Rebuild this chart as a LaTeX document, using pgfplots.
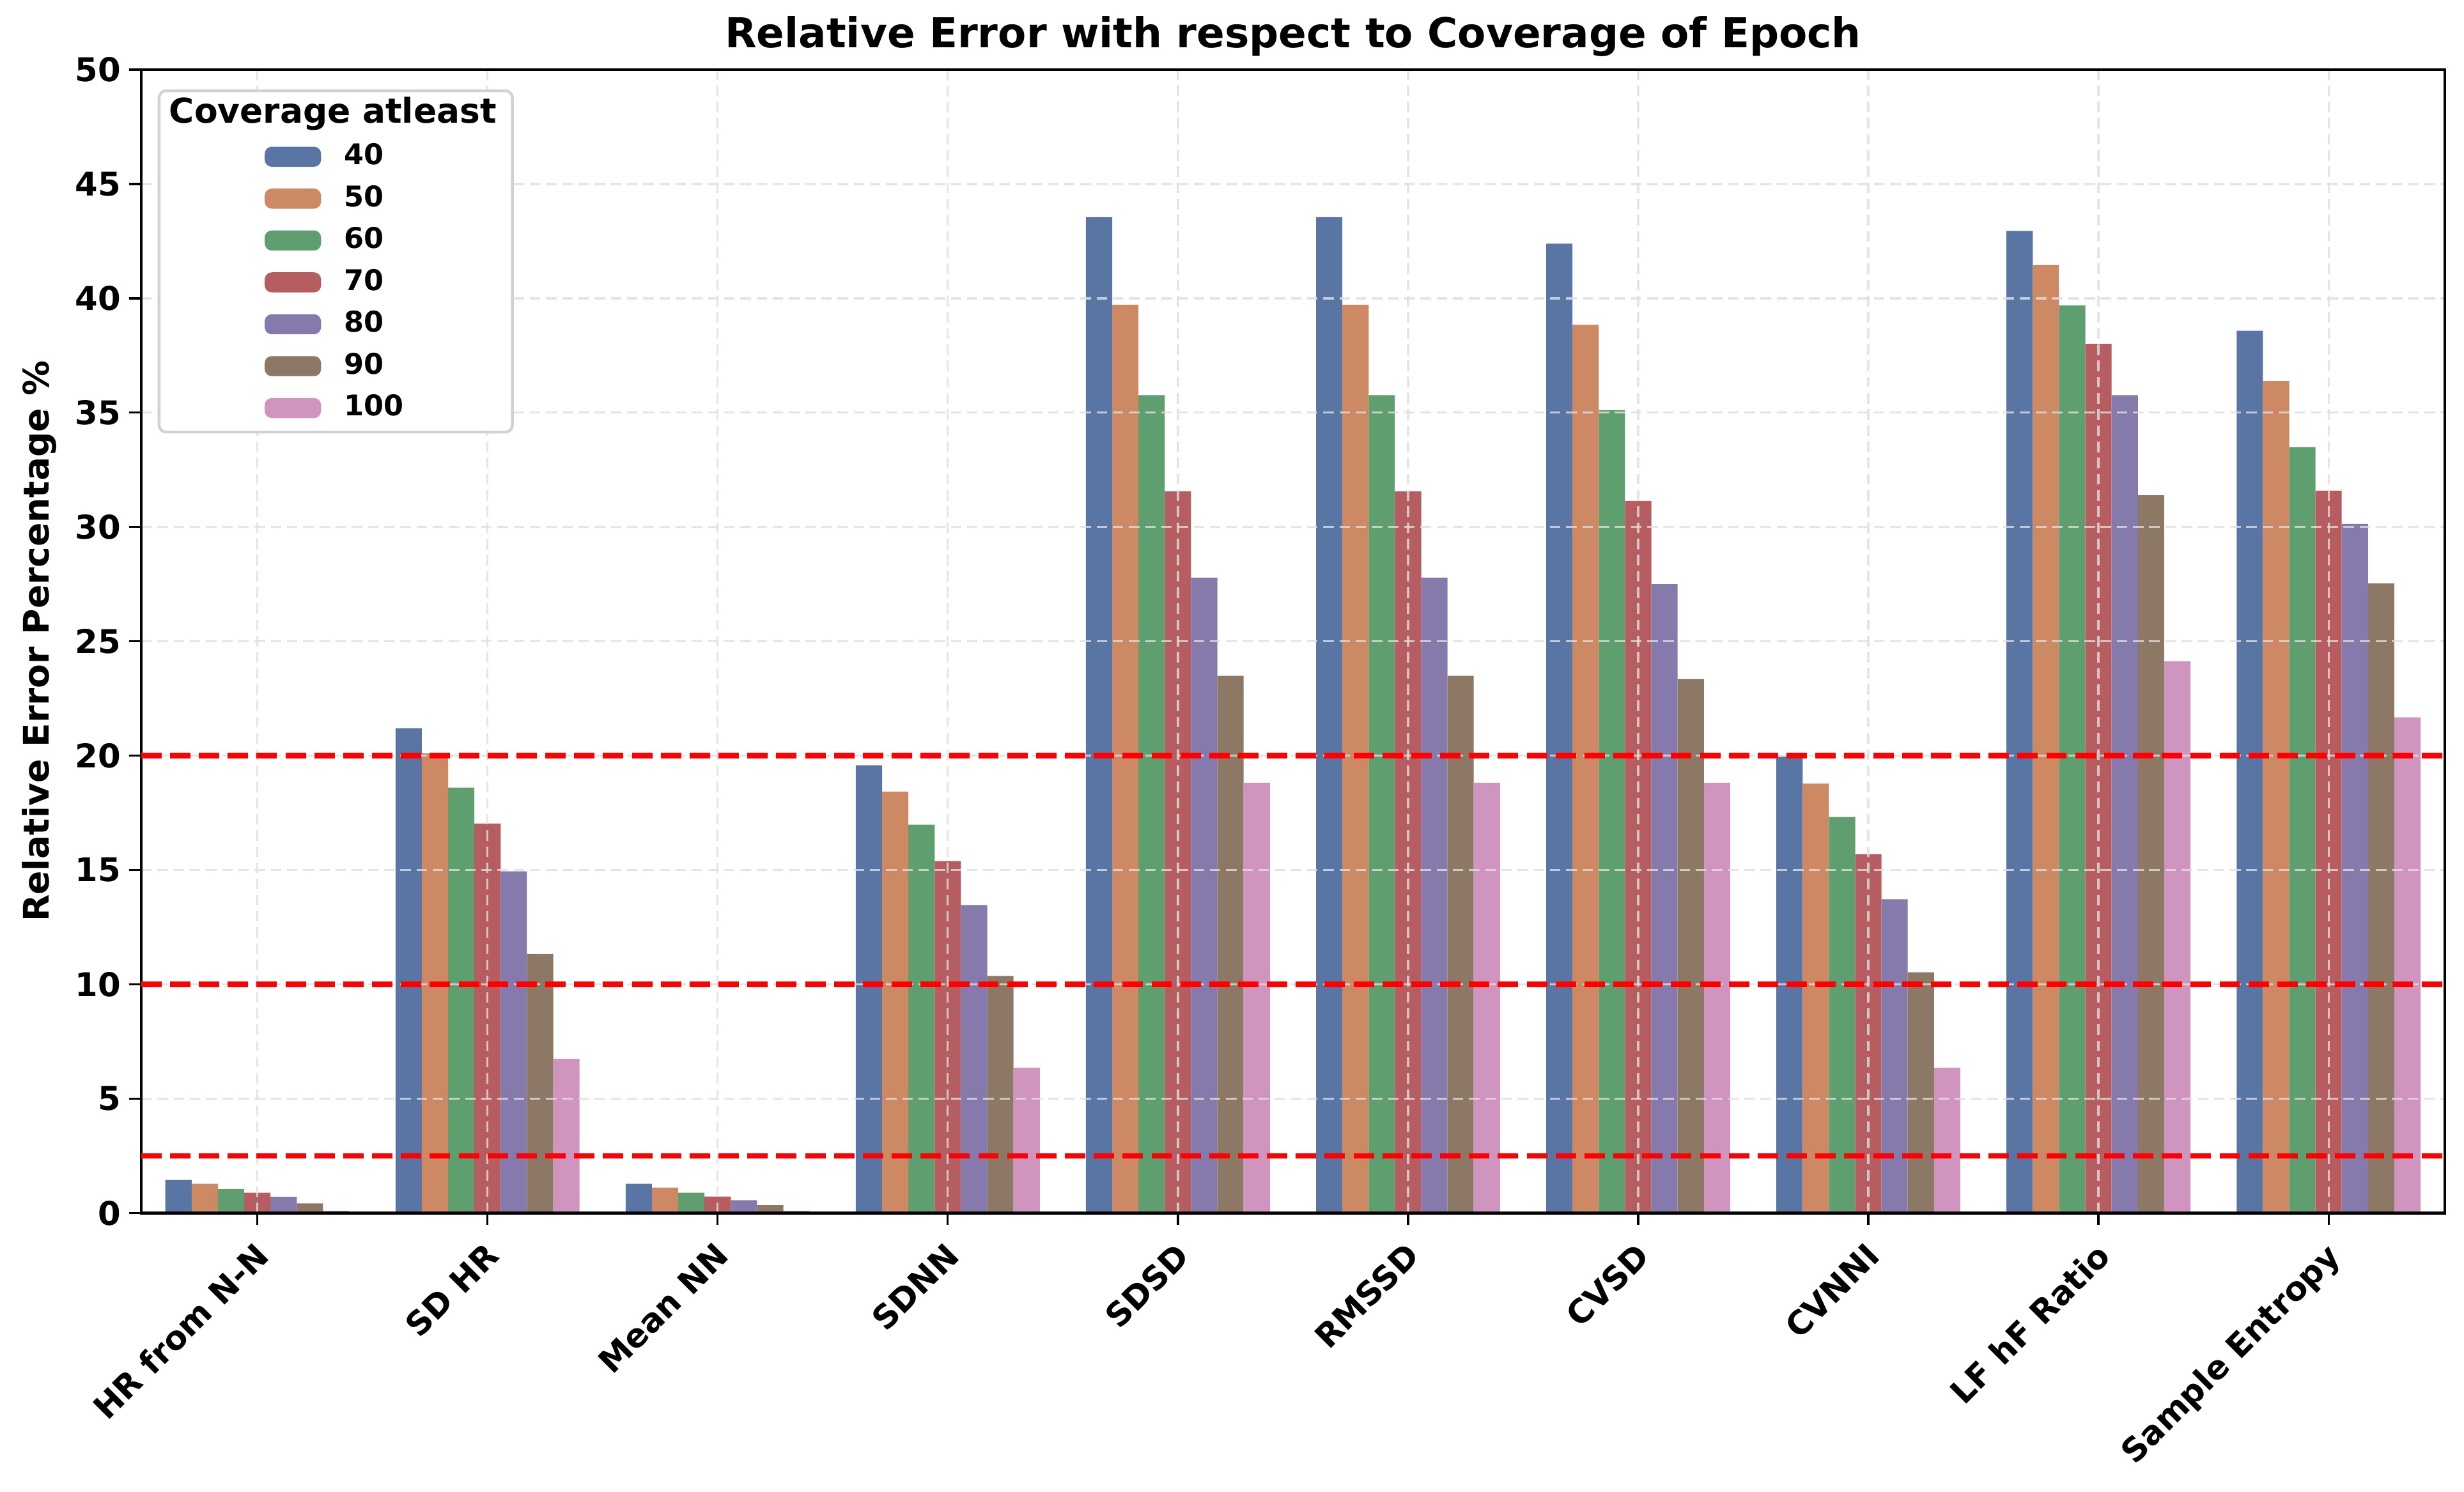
\documentclass[border=0pt]{standalone}
\usepackage{fontspec}
\setmainfont{DejaVu Sans}
\usepackage{pgfplots}
\usepackage{pgfplotstable}
\pgfplotsset{compat=1.18}

% seaborn "deep" palette, desaturated as barplot does
\definecolor{c40}{HTML}{5975A4}
\definecolor{c50}{HTML}{CC8963}
\definecolor{c60}{HTML}{5F9E6E}
\definecolor{c70}{HTML}{B55D60}
\definecolor{c80}{HTML}{857AAB}
\definecolor{c90}{HTML}{8D7866}
\definecolor{c100}{HTML}{D095BF}

\pgfplotstableread{
x c40   c50   c60   c70   c80   c90   c100
0 1.45  1.28  1.05  0.89  0.71  0.42  0.10
1 21.20 20.10 18.60 17.03 14.94 11.33 6.74
2 1.28  1.11  0.89  0.72  0.56  0.34  0.10
3 19.58 18.43 16.98 15.39 13.47 10.37 6.36
4 43.55 39.72 35.77 31.56 27.78 23.49 18.81
5 43.55 39.72 35.77 31.56 27.78 23.49 18.81
6 42.39 38.84 35.11 31.14 27.50 23.35 18.81
7 19.95 18.78 17.32 15.69 13.72 10.53 6.36
8 42.95 41.45 39.69 38.01 35.77 31.39 24.12
9 38.58 36.39 33.49 31.59 30.14 27.53 21.68
}\relerr

\begin{document}
\begin{tikzpicture}
\begin{axis}[
  width=654.4pt, height=324.9pt, scale only axis,
  xmin=-0.505, xmax=9.505, ymin=0, ymax=50,
  enlargelimits=false,
  set layers=axis on top,
  axis line style={black, line width=0.8pt},
  xtick={0,...,9},
  xticklabels={HR from N-N, SD HR, Mean NN, SDNN, SDSD, RMSSD, CVSD, CVNNI, LF hF Ratio, Sample Entropy},
  ytick={0,5,...,50},
  tick align=outside,
  xtick pos=bottom, ytick pos=left,
  major tick length=3.4pt,
  tick style={black, line width=0.6pt},
  /pgf/number format/assume math mode=true,
  every tick label/.append style={font=\fontsize{9.3}{11}\selectfont\bfseries},
  xticklabel style={rotate=45, anchor=north east, inner sep=1pt, xshift=-2.8pt, yshift=-1.2pt},
  yticklabel style={xshift=1.2pt},
  ymajorgrids, xmajorgrids,
  major grid style={gray!25, opacity=0.8, line width=0.6pt, dash pattern=on 3pt off 1.6pt},
  title={Relative Error with respect to Coverage of Epoch},
  title style={font=\fontsize{11.7}{13}\selectfont\bfseries, anchor=center, yshift=3.5pt},
  ylabel={Relative Error Percentage \%},
  ylabel style={font=\fontsize{10}{12}\selectfont\bfseries,
    at={(axis description cs:0,0.5)}, anchor=center, yshift=28.9pt},
  legend cell align=left,
  legend image code/.code={%
    \path[draw=none, fill=none] (-28pt,0pt) -- (16pt,0pt);
    \fill[#1] (0pt,-2.85pt) rectangle (16pt,2.85pt);},
  legend style={at={(0,1)}, anchor=north west, xshift=4.7pt, yshift=-5.6pt,
    draw=gray!35, line width=0.8pt, rounded corners=2pt,
    inner xsep=2pt, inner ysep=2.6pt, row sep=3.4pt, column sep=6pt,
    font=\fontsize{8.1}{9}\selectfont\bfseries,
    nodes={inner sep=0.5pt, text height=6pt, text depth=1.5pt}},
]
\addlegendimage{empty legend}
\addlegendentry{\hspace*{-49.6pt}\fontsize{9.7}{11}\selectfont Coverage atleast\hspace*{2pt}}

\addplot[ybar, bar width=7.466pt, bar shift=-22.40pt, fill=c40, draw=none] table[x=x, y=c40] {\relerr};
\addlegendentry{40}
\addplot[ybar, bar width=7.466pt, bar shift=-14.93pt, fill=c50, draw=none] table[x=x, y=c50] {\relerr};
\addlegendentry{50}
\addplot[ybar, bar width=7.466pt, bar shift=-7.466pt, fill=c60, draw=none] table[x=x, y=c60] {\relerr};
\addlegendentry{60}
\addplot[ybar, bar width=7.466pt, bar shift=0pt, fill=c70, draw=none] table[x=x, y=c70] {\relerr};
\addlegendentry{70}
\addplot[ybar, bar width=7.466pt, bar shift=7.466pt, fill=c80, draw=none] table[x=x, y=c80] {\relerr};
\addlegendentry{80}
\addplot[ybar, bar width=7.466pt, bar shift=14.93pt, fill=c90, draw=none] table[x=x, y=c90] {\relerr};
\addlegendentry{90}
\addplot[ybar, bar width=7.466pt, bar shift=22.40pt, fill=c100, draw=none] table[x=x, y=c100] {\relerr};
\addlegendentry{100}

% threshold lines, drawn above the grid
\addplot[on layer=axis foreground, sharp plot, red, line width=1.6pt, dash pattern=on 5.8pt off 2.4pt, forget plot] coordinates {(-0.505,2.5) (9.505,2.5)};
\addplot[on layer=axis foreground, sharp plot, red, line width=1.6pt, dash pattern=on 5.8pt off 2.4pt, forget plot] coordinates {(-0.505,10) (9.505,10)};
\addplot[on layer=axis foreground, sharp plot, red, line width=1.6pt, dash pattern=on 5.8pt off 2.4pt, forget plot] coordinates {(-0.505,20) (9.505,20)};
\end{axis}
\path ([xshift=-40.1pt, yshift=-79.2pt]current axis.south west)
  rectangle ([xshift=5.45pt, yshift=19.8pt]current axis.north east);
\end{tikzpicture}
\end{document}
